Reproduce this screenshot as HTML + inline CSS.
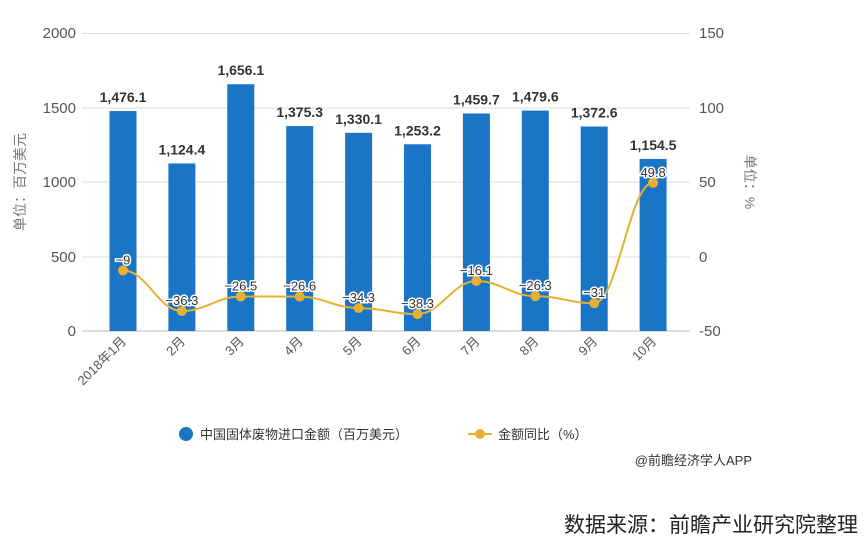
<!DOCTYPE html><html><head><meta charset="utf-8"><style>body{margin:0;background:#fff;width:866px;height:545px;overflow:hidden}text{font-family:"Liberation Sans","Noto Sans CJK SC",sans-serif}</style></head><body>
<svg width="866" height="545" xmlns="http://www.w3.org/2000/svg">
<g stroke="#ddd" stroke-width="1">
<line x1="82" y1="33.5" x2="690" y2="33.5"/><line x1="82" y1="108" x2="690" y2="108"/><line x1="82" y1="182" x2="690" y2="182"/><line x1="82" y1="257" x2="690" y2="257"/></g>
<line x1="82" y1="331" x2="690" y2="331" stroke="#bbb"/>
<g font-size="15" fill="#555" text-anchor="end"><text x="76" y="38">2000</text><text x="76" y="113">1500</text><text x="76" y="187">1000</text><text x="76" y="262">500</text><text x="76" y="336">0</text></g>
<g font-size="15" fill="#555"><text x="699" y="38">150</text><text x="699" y="113">100</text><text x="699" y="187">50</text><text x="699" y="262">0</text><text x="699" y="336">-50</text></g>
<text transform="translate(25,182) rotate(-90)" font-size="14" fill="#777" text-anchor="middle">单位：百万美元</text>
<text transform="translate(745,182) rotate(90)" font-size="14" fill="#777" text-anchor="middle">单位：%</text>
<g fill="#1a75c6" id="bars"></g>
<g id="lbl" font-size="14" font-weight="bold" fill="#333" text-anchor="middle"></g>
<g id="xl" font-size="13" fill="#555"></g>
<path id="ln" fill="none" stroke="#e8b030" stroke-width="2"/>
<g id="dots" fill="#e8b030"></g>
<g id="pl" font-size="13" fill="#333" text-anchor="middle" stroke="#fff" stroke-width="3" paint-order="stroke"></g>
<circle cx="186" cy="434" r="7" fill="#1a75c6"/><text x="200" y="439" font-size="13" fill="#333">中国固体废物进口金额（百万美元）</text>
<line x1="468" y1="434" x2="492" y2="434" stroke="#e8b030" stroke-width="2"/><circle cx="480" cy="434" r="5" fill="#e8b030"/><text x="498" y="439" font-size="13" fill="#333">金额同比（%）</text>
<text x="752" y="465" font-size="13" fill="#333" text-anchor="end">@前瞻经济学人APP</text>
<text x="858" y="532" font-size="21" fill="#222" text-anchor="end">数据来源：前瞻产业研究院整理</text>
</svg>
<script>
var v=[1476.1,1124.4,1656.1,1375.3,1330.1,1253.2,1459.7,1479.6,1372.6,1154.5],p=[-9,-36.3,-26.5,-26.6,-34.3,-38.3,-16.1,-26.3,-31,49.8],
n=["2018年1月","2月","3月","4月","5月","6月","7月","8月","9月","10月"],S="http://www.w3.org/2000/svg";
function e(g,t,a,tx){var el=document.createElementNS(S,t);for(var k in a)el.setAttribute(k,a[k]);if(tx)el.textContent=tx;document.getElementById(g).appendChild(el);}
var pts=[];
for(var i=0;i<10;i++){var cx=123+i*58.9,y=331-v[i]*0.149;
e("bars","rect",{x:cx-13.5,y:y,width:27,height:331-y});
e("lbl","text",{x:cx,y:y-9},v[i].toFixed(1).replace(/^(\d)(\d{3})/,"$1,$2"));
e("xl","text",{x:cx+4,y:342,"text-anchor":"end",transform:"rotate(-45 "+(cx+4)+" 342)"},n[i]);
var py=257-p[i]*1.49;pts.push([cx,py]);
e("dots","circle",{cx:cx,cy:py,r:5});
e("pl","text",{x:cx,y:py-6},String(p[i]).replace("-","−"));}
var d="M"+pts[0];for(i=1;i<10;i++){var a=pts[i-1],b=pts[i],m=(b[0]-a[0])*0.4;d+=" C"+(a[0]+m)+","+a[1]+" "+(b[0]-m)+","+b[1]+" "+b[0]+","+b[1];}
document.getElementById("ln").setAttribute("d",d);
</script>
</body></html>
